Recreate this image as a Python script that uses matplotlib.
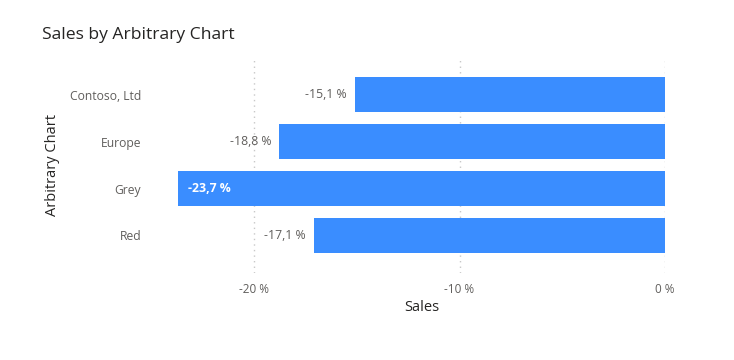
import matplotlib
matplotlib.use("Agg")
import matplotlib.pyplot as plt

categories = ["Contoso, Ltd", "Europe", "Grey", "Red"]
values = [-15.1, -18.8, -23.7, -17.1]
xticks = [-20, -10, 0]
xtick_labels = ["-20 %", "-10 %", "0 %"]

BAR = "#3A8DFF"
TXT = "#605E5C"
DARK = "#252423"
FONT = ["Open Sans", "DejaVu Sans"]
plt.rcParams["font.family"] = FONT

fig = plt.figure(figsize=(7.34, 3.6), dpi=100)
ax = fig.add_axes([178/734, 1-273/360, (665-178)/734, (273-58)/360])

ypos = list(range(len(categories)))
ax.barh(ypos, values, height=0.745, color=BAR, zorder=3)
ax.set_ylim(3.8, -0.78)
ax.set_xlim(-23.7, 0)

for y, v in zip(ypos, values):
    lab = f"{v:.1f} %".replace(".", ",")
    if v == min(values):
        ax.annotate(lab, (v, y), xytext=(7, 0), textcoords="offset points",
                    ha="left", va="center", color="white", fontsize=8.8,
                    fontweight="bold", zorder=4)
    else:
        ax.annotate(lab, (v, y), xytext=(-5.5, 0), textcoords="offset points",
                    ha="right", va="center", color=TXT, fontsize=8.8, zorder=4)

ax.set_xticks(xticks)
ax.set_xticklabels(xtick_labels, color=TXT, fontsize=8.5)
ax.set_yticks(ypos)
ax.set_yticklabels(categories, color=TXT, fontsize=8.7)
ax.tick_params(axis="y", length=0, pad=26.5)
ax.tick_params(axis="x", length=0, pad=7)
ax.grid(axis="x", color="#C8C8C8", linestyle=(0, (1, 3)), linewidth=1, zorder=0)
for s in ax.spines.values():
    s.set_visible(False)

ax.set_xlabel("Sales", color=DARK, fontsize=10.5, labelpad=3)
ax.set_ylabel("Arbitrary Chart", color=DARK, fontsize=10.5)
ax.yaxis.set_label_coords(-118/487, 0.5)

fig.text(42/734, 1-35/360, "Sales by Arbitrary Chart", fontsize=12.6, color=DARK,
         va="center", ha="left")

fig.savefig("out.png", dpi=100)
